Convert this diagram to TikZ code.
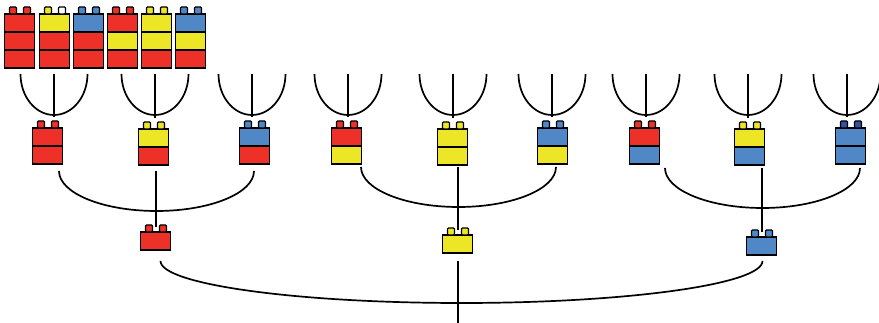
\documentclass[tikz,border=0pt]{standalone}
\usepackage{tikz}
\usetikzlibrary{calc}
\definecolor{brickred}{RGB}{238,49,40}
\definecolor{brickyellow}{RGB}{236,230,38}
\definecolor{brickblue}{RGB}{80,135,199}
\definecolor{darkstud}{RGB}{52,82,160}

% #1 name, #2 top centre, #3 layers, #4 stud colours, #5 layer colours from the top
\newcommand{\brick}[5]{%
  \node[brick, minimum height=18*#3pt, anchor=north] (#1) at (#2) {};
  \foreach \c [count=\i from 0] in {#5}
    \filldraw[fill=\c] ($(#1.north west)+(0,18*\i)$) rectangle ++(30,18);
  \foreach \c [count=\i from 0] in {#4}
    \filldraw[fill=\c, rounded corners=1pt] ($(#1.north)+(14*\i-10.5,0)$) rectangle ++(7,-7);
}

\begin{document}
\begin{tikzpicture}[x=1pt, y=-1pt, line width=1.4pt,
            brick/.style = {inner sep=0pt,
            minimum width=30pt},
            wire/.style = {line width=1.7pt}]
        \useasboundingbox (0,0) rectangle (879,323);

        % Towers of three
        \brick{t1}{20,14}{3}{brickred,brickred}{brickred,brickred,brickred}
        \brick{t2}{55,14}{3}{brickyellow,white}{brickyellow,brickred,brickred}
        \brick{t3}{89,14}{3}{brickblue,brickblue}{brickblue,brickred,brickred}
        \brick{t4}{123,14}{3}{brickred,brickred}{brickred,brickyellow,brickred}
        \brick{t5}{157,14}{3}{brickyellow,brickyellow}{brickyellow,brickyellow,brickred}
        \brick{t6}{191,14}{3}{brickblue,brickblue}{brickblue,brickyellow,brickred}

        % Towers of two
        \brick{m1}{48,128}{2}{brickred,brickred}{brickred,brickred}
        \brick{m2}{154,129}{2}{brickyellow,brickyellow}{brickyellow,brickred}
        \brick{m3}{255,128}{2}{brickblue,brickblue}{brickblue,brickred}
        \brick{m4}{347,128}{2}{brickred,brickred}{brickred,brickyellow}
        \brick{m5}{453,129}{2}{brickyellow,brickyellow}{brickyellow,brickyellow}
        \brick{m6}{553,128}{2}{brickblue,brickblue}{brickblue,brickyellow}
        \brick{m7}{645,128}{2}{brickred,brickred}{brickred,brickblue}
        \brick{m8}{750,129}{2}{brickyellow,brickyellow}{brickyellow,brickblue}
        \brick{m9}{851,128}{2}{darkstud,darkstud}{brickblue,brickblue}

        % Single bricks
        \brick{b1}{156,232}{1}{brickred,brickred}{brickred}
        \brick{b2}{458,235}{1}{brickyellow,brickyellow}{brickyellow}
        \brick{b3}{762,237}{1}{brickblue,brickblue}{brickblue}

        % Forks onto the towers of two
        \foreach \x [count=\i] in {54,155,252,348,453,552,646,748,847} {
            \coordinate (u\i) at (\x,74);
            \draw[wire, shorten >=11pt] (u\i) -- (u\i |- m\i.north);
            \draw[wire] ([xshift=-33.5pt]u\i) arc[start angle=180, end angle=0, x radius=33.5, y radius=41];
        }

        % Forks onto the single bricks
        \coordinate (g1) at (156,171);
        \coordinate (g2) at (458,167);
        \coordinate (g3) at (762,168);
        \foreach \i in {1,2,3} {
            \draw[wire, shorten >=5pt] (g\i) -- (g\i |- b\i.north);
            \draw[wire] ([xshift=-97pt]g\i) arc[start angle=180, end angle=0, x radius=97.5, y radius=40];
        }

        % Root fork
        \coordinate (f) at (458,261);
        \coordinate (root) at (458,323);
        \draw[wire] (f) -- (root);
        \draw[wire] ([xshift=-297.5pt]f) arc[start angle=180, end angle=0, x radius=301, y radius=42];
    \end{tikzpicture}
\end{document}
